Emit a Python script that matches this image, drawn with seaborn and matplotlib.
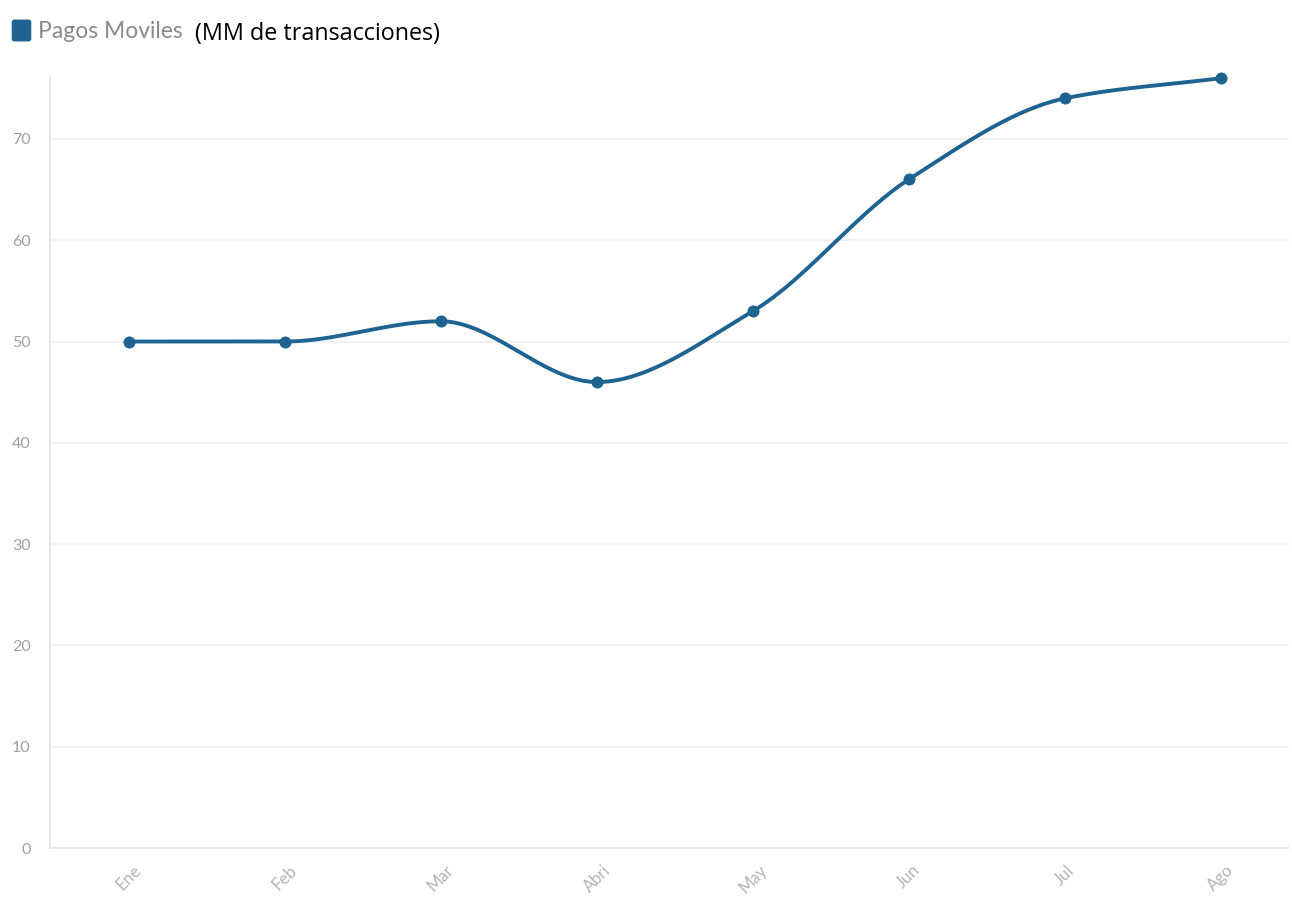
import numpy as np
import pandas as pd
import seaborn as sns
import matplotlib.pyplot as plt
from matplotlib.patches import FancyBboxPatch

# data
meses = ['Ene', 'Feb', 'Mar', 'Abri', 'May', 'Jun', 'Jul', 'Ago']
pagos = [50, 50, 52, 46, 53, 66, 74, 76]
y_ticks = [0, 10, 20, 30, 40, 50, 60, 70]

color = '#1f6391'

df = pd.DataFrame({'mes': meses, 'pagos': pagos})
df['x'] = np.arange(len(meses))


# monotone cubic curve (Fritsch-Carlson) so the line looks smooth like the original
def monotone(x, y, n=60):
    x = np.asarray(x, float)
    y = np.asarray(y, float)
    h = np.diff(x)
    d = np.diff(y) / h
    m = np.zeros(len(x))
    m[0], m[-1] = d[0], d[-1]
    for i in range(1, len(x) - 1):
        if d[i - 1] * d[i] <= 0:
            m[i] = 0
        else:
            w1 = 2 * h[i] + h[i - 1]
            w2 = h[i] + 2 * h[i - 1]
            m[i] = (w1 + w2) / (w1 / d[i - 1] + w2 / d[i])
    xs, ys = [], []
    for i in range(len(x) - 1):
        t = np.linspace(0, 1, n)
        h00 = 2 * t**3 - 3 * t**2 + 1
        h10 = t**3 - 2 * t**2 + t
        h01 = -2 * t**3 + 3 * t**2
        h11 = t**3 - t**2
        xs.append(x[i] + t * h[i])
        ys.append(h00 * y[i] + h10 * h[i] * m[i] + h01 * y[i + 1] + h11 * h[i] * m[i + 1])
    return np.concatenate(xs), np.concatenate(ys)


sns.set_style('white')
fig = plt.figure(figsize=(12.92, 8.97), dpi=100)
ax = fig.add_axes([0.0387, 0.0546, 0.9593, 0.8594])

cx, cy = monotone(df['x'], df['pagos'])
sns.lineplot(x=cx, y=cy, ax=ax, color=color, linewidth=2.8, sort=False)
sns.scatterplot(data=df, x='x', y='pagos', ax=ax, color=color, s=75,
                edgecolor=color, linewidth=0, zorder=5)
for c in ax.collections:
    c.set_clip_on(False)
for l in ax.lines:
    l.set_clip_on(False)

ax.set_xlim(-0.505, 7.44)
ax.set_ylim(0, 76.1)
ax.set_yticks(y_ticks)
ax.set_xticks(df['x'])
ax.set_xticklabels(meses, rotation=45, ha='center')
ax.set_xlabel('')
ax.set_ylabel('')

ax.grid(axis='y', color='#efefef', linewidth=1.2)
ax.grid(axis='x', visible=False)
ax.set_axisbelow(True)
for s in ['top', 'right']:
    ax.spines[s].set_visible(False)
for s in ['left', 'bottom']:
    ax.spines[s].set_color('#e6e6e6')
    ax.spines[s].set_linewidth(1.2)

ax.tick_params(axis='y', colors='#eeeeee', labelsize=11.5, length=8, width=1,
               labelcolor='#a0a0a0', pad=6)
ax.tick_params(axis='x', colors='#eeeeee', labelsize=12, length=8, width=1,
               labelcolor='#b4b4b4', pad=2)
for t in ax.get_yticklabels():
    t.set_fontfamily('Lato')
for t in ax.get_xticklabels():
    t.set_fontfamily('Lato')

# legend-like title
fig.patches.append(FancyBboxPatch((15 / 1292, 1 - 39 / 897), 13 / 1292, 17 / 897,
                                  boxstyle='round,pad=0.002', transform=fig.transFigure,
                                  facecolor=color, edgecolor=color))
fig.text(38 / 1292, 1 - 32 / 897, 'Pagos Moviles', fontsize=16.5, color='#8a8a8a',
         family='Lato', va='center', ha='left')
fig.text(195 / 1292, 1 - 34 / 897, '(MM de transacciones)', fontsize=16.8, color='black',
         family='Open Sans', va='center', ha='left')

fig.savefig('out.png', dpi=100)
